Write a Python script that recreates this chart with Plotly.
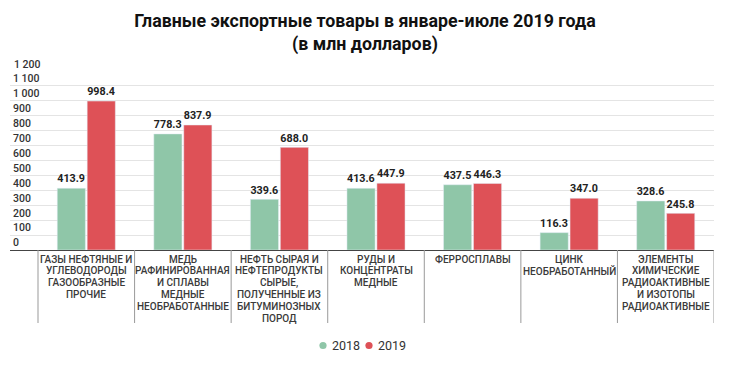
import plotly.graph_objects as go

categories = [
    ["ГАЗЫ НЕФТЯНЫЕ И", "УГЛЕВОДОРОДЫ", "ГАЗООБРАЗНЫЕ", "ПРОЧИЕ"],
    ["МЕДЬ", "РАФИНИРОВАННАЯ", "И СПЛАВЫ", "МЕДНЫЕ", "НЕОБРАБОТАННЫЕ"],
    ["НЕФТЬ СЫРАЯ И", "НЕФТЕПРОДУКТЫ", "СЫРЫЕ,", "ПОЛУЧЕННЫЕ ИЗ", "БИТУМИНОЗНЫХ", "ПОРОД"],
    ["РУДЫ И", "КОНЦЕНТРАТЫ", "МЕДНЫЕ"],
    ["ФЕРРОСПЛАВЫ"],
    ["ЦИНК", "НЕОБРАБОТАННЫЙ"],
    ["ЭЛЕМЕНТЫ", "ХИМИЧЕСКИЕ", "РАДИОАКТИВНЫЕ", "И ИЗОТОПЫ", "РАДИОАКТИВНЫЕ"],
]
series_names = ["2018", "2019"]
values_2018 = [413.9, 778.3, 339.6, 413.6, 437.5, 116.3, 328.6]
values_2019 = [998.4, 837.9, 688.0, 447.9, 446.3, 347.0, 245.8]
tick_vals = [0, 100, 200, 300, 400, 500, 600, 700, 800, 900, 1000, 1100, 1200]
tick_text = ["0", "100", "200", "300", "400", "500", "600", "700", "800", "900",
             "1 000", "1 100", "1 200"]

GREEN = "#8fc6a8"
RED = "#de5157"
FONT = "Roboto"

# plot area in pixels
W, H = 730, 365
ML, MR, MT, MB = 10, 16, 71, 115
PW, PH = W - ML - MR, H - MT - MB


def px_x(px):
    return (px - ML) / PW


def px_y(py):
    return (H - MB - py) / PH


xpos = list(range(len(categories)))

fig = go.Figure()
for name, vals, col in [(series_names[0], values_2018, GREEN),
                        (series_names[1], values_2019, RED)]:
    fig.add_trace(go.Bar(
        x=xpos, y=vals, name=name, marker_color=col, showlegend=False,
        text=[f"{v:.1f}" for v in vals], textposition="outside",
        textfont=dict(family=FONT, size=11.5, color="#222", weight="bold"),
        cliponaxis=False,
    ))

# category labels, one annotation per line for tight line spacing
LINE_H = 11.9
for i, lines in enumerate(categories):
    for j, line in enumerate(lines):
        fig.add_annotation(
            x=i, y=0, xref="x", yref="paper", text=line, showarrow=False,
            yanchor="middle", xanchor="center", yshift=-9 - j * LINE_H,
            font=dict(family=FONT, size=10, color="#3a3a3a", weight=500),
        )

# separators
for i in range(len(categories) + 1):
    fig.add_shape(
        type="line", x0=i - 0.5, x1=i - 0.5, xref="x", yref="paper",
        y0=0, y1=-73 / PH, line=dict(color="#999", width=1),
    )

# top tick label (inside-top labels at the range end get hidden)
fig.add_annotation(
    x=0, xref="paper", xanchor="left", xshift=2, y=1200, yref="y",
    yanchor="bottom", yshift=-2, text=tick_text[-1], showarrow=False,
    font=dict(family=FONT, size=10.5, color="#333", weight=500),
)

# legend (round markers, compact)
for k, (name, col) in enumerate([(series_names[0], GREEN), (series_names[1], RED)]):
    cx = 323 + k * 46
    fig.add_shape(
        type="circle", xref="paper", yref="paper", xsizemode="pixel",
        ysizemode="pixel", xanchor=px_x(cx), yanchor=px_y(345.5),
        x0=-3.6, x1=3.6, y0=-3.6, y1=3.6, fillcolor=col, line=dict(width=0),
    )
    fig.add_annotation(
        x=px_x(cx + 7), y=px_y(345.5), xref="paper", yref="paper",
        xanchor="left", yanchor="middle", text=name, showarrow=False,
        font=dict(family=FONT, size=12.5, color="#333"),
    )

fig.update_layout(
    width=W, height=H,
    margin=dict(l=ML, r=MR, t=MT, b=MB, autoexpand=False),
    plot_bgcolor="white", paper_bgcolor="white",
    barmode="group", bargap=0.38, bargroupgap=0.06,
    title=dict(
        text="<b>Главные экспортные товары в январе-июле 2019 года<br>(в млн долларов)</b>",
        x=0.5, xanchor="center", y=1 - 27 / H, yanchor="top",
        font=dict(family=FONT, size=17.8, color="#111"),
    ),
    showlegend=False,
    font=dict(family=FONT),
)
fig.update_xaxes(
    range=[-0.79, 6.5], showticklabels=False, showgrid=False,
    showline=True, linecolor="#444", linewidth=1, zeroline=False,
    ticks="", automargin=False,
)
fig.update_yaxes(
    range=[0, 1200], tickvals=tick_vals, ticktext=tick_text,
    ticklabelposition="inside top", showgrid=True, gridcolor="#e4e4e4",
    zeroline=False, tickfont=dict(family=FONT, size=10.5, color="#333", weight=500),
    ticks="", automargin=False,
)

fig.write_html("out.html", config={"displayModeBar": False},
               post_script="document.body.style.margin='0';")
